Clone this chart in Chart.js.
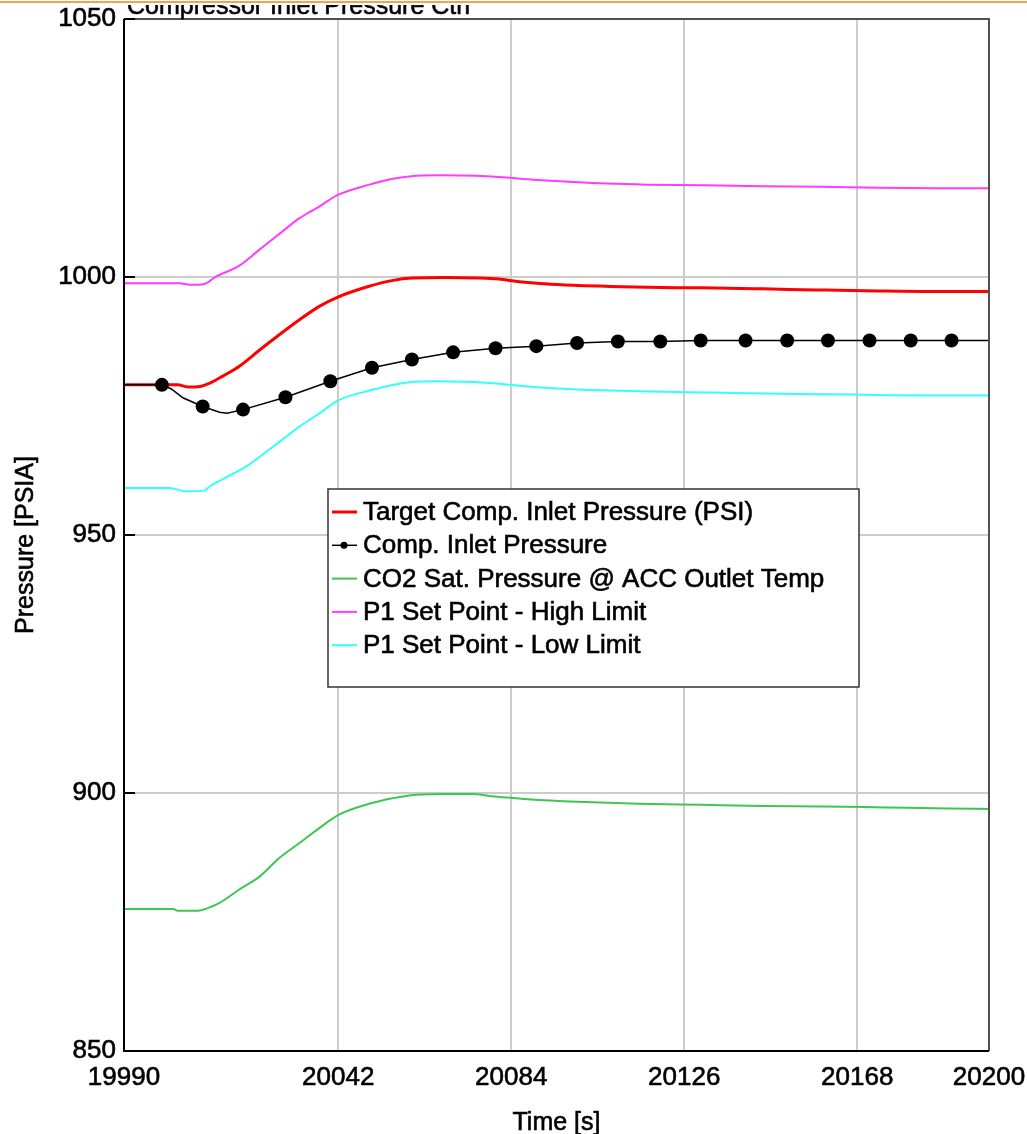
<!DOCTYPE html>
<html><head><meta charset="utf-8">
<script src="https://cdn.jsdelivr.net/npm/chart.js@4.4.1/dist/chart.umd.min.js"></script>
<style>html,body{margin:0;padding:0;background:#fff;overflow:hidden}canvas{display:block}</style>
</head><body>
<canvas id="c" width="1027" height="1134"></canvas>
<script>
// ---------- text ----------
const chartTitle = "Compressor Inlet Pressure Ctrl";
const xAxisTitle = "Time [s]";
const yAxisTitle = "Pressure [PSIA]";
const seriesLabels = [
  "Target Comp. Inlet Pressure (PSI)",
  "Comp. Inlet Pressure",
  "CO2 Sat. Pressure @ ACC Outlet Temp",
  "P1 Set Point - High Limit",
  "P1 Set Point - Low Limit"
];
// ---------- ticks ----------
const xTicks = [19990, 20042, 20084, 20126, 20168, 20200];
const yTicks = [850, 900, 950, 1000, 1050];

// ---------- series (time [s], pressure [PSIA]) ----------
const targetT = [19990, 20003, 20005.5, 20008.5, 20011, 20014, 20018, 20023, 20027.7, 20032.6, 20037.4, 20042.2, 20049.5, 20055, 20060, 20068, 20076, 20081, 20086, 20092, 20099, 20107, 20117, 20130, 20145, 20158, 20173, 20186, 20200];
const targetV = [979.1, 979.1, 978.7, 978.8, 979.5, 980.8, 982.7, 985.9, 988.8, 991.7, 994.3, 996.2, 998.2, 999.3, 999.8, 999.9, 999.8, 999.6, 999.1, 998.7, 998.4, 998.2, 998.0, 997.9, 997.7, 997.5, 997.3, 997.2, 997.2];

const compT = [19990, 19999.2, 20001.5, 20004.3, 20009.1, 20013.2, 20015, 20018.9, 20029.2, 20040.1, 20050.2, 20059.9, 20069.9, 20080.2, 20090.1, 20100, 20109.9, 20120.2, 20130, 20140.9, 20151, 20160.9, 20171, 20181, 20190.9, 20200];
const compV = [979.1, 979.1, 978.3, 976.6, 974.9, 973.8, 973.6, 974.3, 976.7, 979.8, 982.4, 984.0, 985.4, 986.2, 986.6, 987.2, 987.5, 987.5, 987.7, 987.7, 987.7, 987.7, 987.7, 987.7, 987.7, 987.7];
const compMarkT = [19999.2, 20009.1, 20018.9, 20029.2, 20040.1, 20050.2, 20059.9, 20069.9, 20080.2, 20090.1, 20100, 20109.9, 20120.2, 20130, 20140.9, 20151, 20160.9, 20171, 20181, 20190.9];
const compMarkV = [979.1, 974.9, 974.3, 976.7, 979.8, 982.4, 984.0, 985.4, 986.2, 986.6, 987.2, 987.5, 987.5, 987.7, 987.7, 987.7, 987.7, 987.7, 987.7, 987.7];

const satT = [19990, 20002, 20003, 20008, 20010, 20013.2, 20018, 20022.9, 20027.7, 20032.6, 20037.4, 20042.2, 20049.5, 20059.2, 20067, 20074.4, 20080, 20088, 20100, 20115, 20130, 20145, 20160, 20175, 20190, 20200];
const satV = [877.5, 877.5, 877.2, 877.2, 877.6, 878.7, 881.3, 883.8, 887.4, 890.3, 893.2, 895.8, 897.9, 899.5, 899.8, 899.8, 899.3, 898.8, 898.3, 897.9, 897.7, 897.5, 897.4, 897.2, 897.0, 896.9];

const highT = [19990, 20003.5, 20006, 20009.3, 20012.4, 20018, 20022.9, 20027.8, 20032.6, 20037.5, 20041.9, 20049.6, 20055, 20059.3, 20067, 20075.5, 20082.8, 20087, 20092.5, 20099, 20107, 20117, 20131, 20145, 20159, 20173, 20187, 20200];
const highV = [998.8, 998.8, 998.5, 998.6, 1000.1, 1002.2, 1005.3, 1008.4, 1011.4, 1013.7, 1015.9, 1017.9, 1019.0, 1019.5, 1019.7, 1019.6, 1019.3, 1019.0, 1018.7, 1018.4, 1018.1, 1017.9, 1017.8, 1017.6, 1017.5, 1017.3, 1017.2, 1017.2];

const lowT = [19990, 20001, 20005, 20009.5, 20010.8, 20015.6, 20019.7, 20023.7, 20027.8, 20032.6, 20037.5, 20042, 20049.6, 20059.3, 20066.6, 20078, 20083.6, 20088, 20093, 20100, 20108, 20118, 20133, 20146, 20160, 20175, 20188, 20200];
const lowV = [959.1, 959.1, 958.5, 958.6, 959.4, 961.5, 963.3, 965.6, 968.1, 971.0, 973.6, 976.1, 978.0, 979.6, 979.8, 979.5, 979.1, 978.8, 978.5, 978.2, 978.0, 977.8, 977.6, 977.4, 977.3, 977.1, 977.05, 977.05];

// ---------- build ----------
const pts = (t, v) => t.map((x, i) => ({x: x, y: v[i]}));
const FONT = "'Liberation Sans', Arial, Helvetica, sans-serif";

const datasets = [
  {label: seriesLabels[1] + " markers", data: pts(compMarkT, compMarkV), showLine: false, pointRadius: 7, pointHoverRadius: 7,
   pointBackgroundColor: '#000', pointBorderWidth: 0, borderColor: '#000', order: 0, inLegend: false},
  {label: seriesLabels[1], data: pts(compT, compV), borderColor: '#000', borderWidth: 1.5, pointRadius: 0, order: 1, inLegend: true, legendIdx: 1, legendDot: true},
  {label: seriesLabels[0], data: pts(targetT, targetV), borderColor: '#ff0000', borderWidth: 3, pointRadius: 0, order: 2, inLegend: true, legendIdx: 0, cubicInterpolationMode: 'monotone'},
  {label: seriesLabels[2], data: pts(satT, satV), borderColor: '#3ec653', borderWidth: 2, pointRadius: 0, order: 3, inLegend: true, legendIdx: 2, cubicInterpolationMode: 'monotone'},
  {label: seriesLabels[3], data: pts(highT, highV), borderColor: '#ff3cff', borderWidth: 2, pointRadius: 0, order: 4, inLegend: true, legendIdx: 3, cubicInterpolationMode: 'monotone'},
  {label: seriesLabels[4], data: pts(lowT, lowV), borderColor: '#33ffff', borderWidth: 2, pointRadius: 0, order: 5, inLegend: true, legendIdx: 4, cubicInterpolationMode: 'monotone'}
];

function heavyText(ctx, s, x, y) {
  ctx.lineWidth = 0.6; ctx.strokeStyle = '#000';
  ctx.strokeText(s, x, y);
  ctx.fillText(s, x, y);
}

const decor = {
  id: 'decor',
  afterDatasetsDraw(chart) {
    const ctx = chart.ctx, a = chart.chartArea;
    ctx.save();
    // frame
    ctx.lineWidth = 2;
    ctx.strokeStyle = '#505050';
    ctx.beginPath(); ctx.moveTo(a.left, a.top); ctx.lineTo(a.right, a.top); ctx.lineTo(a.right, a.bottom); ctx.stroke();
    ctx.strokeStyle = '#000';
    ctx.beginPath(); ctx.moveTo(a.left, a.top); ctx.lineTo(a.left, a.bottom); ctx.lineTo(a.right, a.bottom); ctx.stroke();
    // small inner y ticks
    const ys = chart.scales.y;
    yTicks.forEach(v => {
      const py = Math.round(ys.getPixelForValue(v));
      ctx.beginPath(); ctx.moveTo(a.left, py); ctx.lineTo(a.left + 11, py); ctx.stroke();
    });
    // legend box
    const bx = 328, by = 489, bw = 531, bh = 198;
    ctx.fillStyle = '#fff';
    ctx.fillRect(bx, by, bw, bh);
    ctx.lineWidth = 1.5; ctx.strokeStyle = '#333';
    ctx.strokeRect(bx, by, bw, bh);
    ctx.font = '26px ' + FONT;
    ctx.textBaseline = 'middle'; ctx.textAlign = 'left';
    const items = chart.data.datasets.filter(d => d.inLegend).sort((p, q) => p.legendIdx - q.legendIdx);
    items.forEach((d, i) => {
      const yy = by + 23 + i * 33.3;
      ctx.strokeStyle = d.borderColor;
      ctx.lineWidth = d.borderWidth >= 3 ? 3 : (d.legendDot ? 1.5 : 2);
      ctx.beginPath(); ctx.moveTo(bx + 4, yy); ctx.lineTo(bx + 29, yy); ctx.stroke();
      if (d.legendDot) {
        ctx.fillStyle = '#000';
        ctx.beginPath(); ctx.arc(bx + 16, yy, 3.5, 0, Math.PI * 2); ctx.fill();
      }
      ctx.fillStyle = '#000';
      heavyText(ctx, d.label, bx + 35, yy + 1);
    });
    ctx.restore();
  },
  afterDraw(chart) {
    const ctx = chart.ctx, a = chart.chartArea;
    ctx.save();
    ctx.fillStyle = '#000';
    // axis titles
    ctx.font = '25px ' + FONT;
    ctx.textAlign = 'center'; ctx.textBaseline = 'middle';
    heavyText(ctx, xAxisTitle, (a.left + a.right) / 2, 1123);
    ctx.save();
    ctx.translate(26, 545); ctx.rotate(-Math.PI / 2);
    heavyText(ctx, yAxisTitle, 0, 0);
    ctx.restore();
    // title (clipped at the top in the reference)
    ctx.font = '25px ' + FONT;
    ctx.textAlign = 'left'; ctx.textBaseline = 'alphabetic';
    heavyText(ctx, chartTitle, 127, 14);
    ctx.fillStyle = '#fff';
    ctx.fillRect(0, 0, chart.width, 5);
    ctx.fillStyle = '#f7a04f';
    ctx.fillRect(0, 1, chart.width, 2);
    ctx.restore();
  }
};

const tickFont = {family: FONT, size: 26};
new Chart(document.getElementById('c'), {
  type: 'line',
  data: {datasets: datasets},
  options: {
    responsive: false,
    devicePixelRatio: 1,
    animation: false,
    events: [],
    layout: {padding: {top: 19, right: 38, left: 0, bottom: 0}},
    plugins: {legend: {display: false}, tooltip: {enabled: false}, title: {display: false}},
    scales: {
      x: {
        type: 'linear', min: 19990, max: 20200,
        afterBuildTicks: s => { s.ticks = xTicks.map(v => ({value: v})); },
        afterFit: s => { s.height = 83; s.paddingLeft = 0; s.paddingRight = 0; },
        grid: {color: '#cccccc', lineWidth: 2, drawTicks: false},
        border: {display: false},
        ticks: {color: '#000', font: tickFont, padding: 11, maxRotation: 0, autoSkip: false,
                textStrokeColor: '#000', textStrokeWidth: 0.6, callback: v => String(v)}
      },
      y: {
        min: 850, max: 1050,
        afterBuildTicks: s => { s.ticks = yTicks.map(v => ({value: v})); },
        afterFit: s => { s.width = 124; s.paddingTop = 0; s.paddingBottom = 0; },
        grid: {color: '#cccccc', lineWidth: 2, drawTicks: false},
        border: {display: false},
        ticks: {color: '#000', font: tickFont, padding: 8, textStrokeColor: '#000', textStrokeWidth: 0.6,
                callback: v => String(v)}
      }
    }
  },
  plugins: [decor]
});
</script>
</body></html>
